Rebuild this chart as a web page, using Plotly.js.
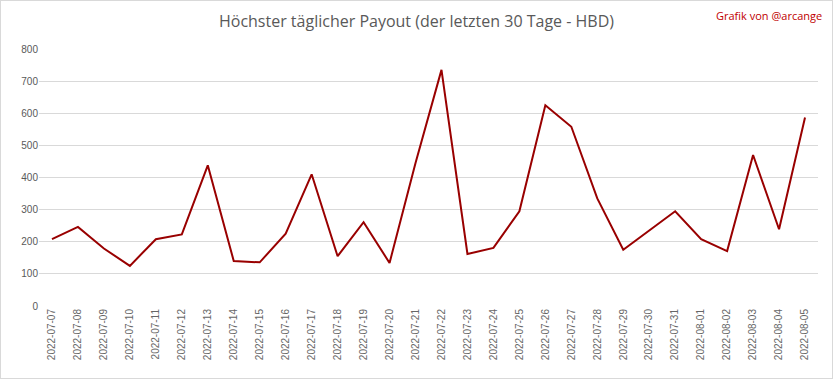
<!DOCTYPE html>
<html><head><meta charset="utf-8">
<script src="https://cdn.plot.ly/plotly-3.0.1.min.js"></script>
<style>html,body{margin:0;padding:0;background:#fff}#c{width:833px;height:379px;box-sizing:border-box;border:1px solid #d9d9d9}</style>
</head><body><div id="c"></div>
<script>
const dates = ["2022-07-07","2022-07-08","2022-07-09","2022-07-10","2022-07-11","2022-07-12","2022-07-13","2022-07-14","2022-07-15","2022-07-16","2022-07-17","2022-07-18","2022-07-19","2022-07-20","2022-07-21","2022-07-22","2022-07-23","2022-07-24","2022-07-25","2022-07-26","2022-07-27","2022-07-28","2022-07-29","2022-07-30","2022-07-31","2022-08-01","2022-08-02","2022-08-03","2022-08-04","2022-08-05"];
const payout = [208,246,179,125,208,223,438,140,136,225,410,155,261,134,445,735,162,181,295,625,558,335,175,236,295,208,171,470,239,587];
const yTicks = [0,100,200,300,400,500,600,700,800];

Plotly.newPlot('c', [{
  x: dates, y: payout, type: 'scatter', mode: 'lines',
  line: {color: '#990000', width: 2}, hoverinfo: 'x+y'
}], {
  width: 831, height: 377,
  margin: {l: 38, r: 14, t: 48, b: 72},
  paper_bgcolor: '#fff', plot_bgcolor: '#fff',
  showlegend: false,
  title: {text: 'Höchster täglicher Payout (der letzten 30 Tage - HBD)', x: 0.5, xanchor: 'center', y: 0.945, yanchor: 'middle',
    font: {family: 'Open Sans, sans-serif', size: 16, color: '#595959'}},
  xaxis: {type: 'category', range: [-0.5, dates.length - 0.5], tickangle: -90, showgrid: false, showline: false, zeroline: false, ticks: '',
    tickfont: {family: 'Liberation Sans, sans-serif', size: 10, color: '#666666'}, fixedrange: true},
  yaxis: {range: [0, 800], tickvals: yTicks, showgrid: true, gridcolor: '#d9d9d9', gridwidth: 1, zeroline: false,
    showline: false, ticks: '', ticklen: 0, tickfont: {family: 'Liberation Sans, sans-serif', size: 10, color: '#595959'}, fixedrange: true},
  annotations: [{text: 'Grafik von @arcange', xref: 'paper', yref: 'paper', x: 1.008, y: 1.13, xanchor: 'right', yanchor: 'middle',
    showarrow: false, font: {family: 'Open Sans, sans-serif', size: 11, color: '#c00000'}}]
}, {displayModeBar: false, staticPlot: true});
</script></body></html>
